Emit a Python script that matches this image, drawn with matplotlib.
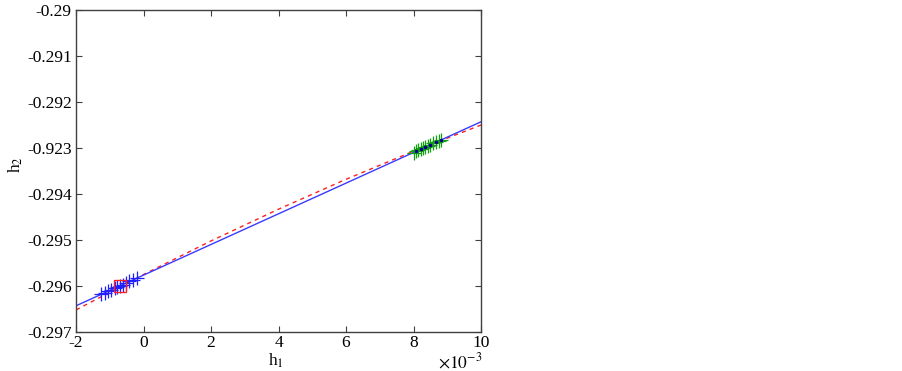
import matplotlib
matplotlib.use('Agg')
import matplotlib.pyplot as plt
from matplotlib.ticker import FixedLocator, FixedFormatter

plt.rcParams['font.family'] = ['Liberation Serif', 'DejaVu Serif']
plt.rcParams['mathtext.fontset'] = 'stix'

# fitted line (blue, solid) - values in units of 1e-3 on x
line_x = [-2, 10]
line_y = [-0.29643, -0.29243]

# second fit (red, dashed)
red_x = [-2, 0, 2, 4, 6, 8, 10]
red_y = [-0.29652, -0.29575, -0.29502, -0.29433, -0.29368, -0.29307, -0.29250]

# blue cluster
blue_x = [-1.25, -1.15, -1.05, -0.95, -0.85, -0.78, -0.70, -0.62, -0.52, -0.42, -0.30, -0.20]
blue_y = [-0.29618, -0.29615, -0.29611, -0.29608, -0.29605, -0.29602,
          -0.29600, -0.29597, -0.29594, -0.29590, -0.29586, -0.29583]

# green cluster
green_x = [8.00, 8.07, 8.14, 8.21, 8.28, 8.35, 8.42, 8.50, 8.58, 8.66, 8.74, 8.82]
green_y = [-0.29310, -0.29307, -0.29305, -0.29303, -0.29300, -0.29298,
           -0.29296, -0.29293, -0.29290, -0.29288, -0.29285, -0.29282]

# red square marker
sq_x = [-0.70]
sq_y = [-0.29600]

yticks = [-0.29, -0.291, -0.292, -0.293, -0.294, -0.295, -0.296, -0.297]
ytick_labels = ['-0.29', '-0.291', '-0.292', '-0.923', '-0.294', '-0.295', '-0.296', '-0.297']
xticks = [-2, 0, 2, 4, 6, 8, 10]

fig = plt.figure(figsize=(9.03, 3.71), dpi=100)
ax = fig.add_axes([0.0842, 0.1051, 0.4485, 0.8679])

ax.plot(red_x, red_y, color='#ff2020', linestyle=(0, (3, 3)), linewidth=1.0)
ax.plot(line_x, line_y, color='#3a3aff', linewidth=1.0)
ax.plot(blue_x, blue_y, linestyle='none', marker='+', color='#2020ff',
        markersize=10, markeredgewidth=0.9)
ax.plot(green_x, green_y, linestyle='none', marker='+', color='#10a010',
        markersize=10, markeredgewidth=0.9)
ax.plot(green_x[1::2], green_y[1::2], linestyle='none', marker='.', color='#000090',
        markersize=3)
ax.plot(sq_x, sq_y, linestyle='none', marker='s', markerfacecolor='none',
        markeredgecolor='#ff2020', markersize=8, markeredgewidth=1.0)

ax.set_xlim(-2, 10)
ax.set_ylim(-0.297, -0.29)
ax.xaxis.set_major_locator(FixedLocator(xticks))
ax.set_xticklabels([str(v) for v in xticks])
ax.yaxis.set_major_locator(FixedLocator(yticks))
ax.yaxis.set_major_formatter(FixedFormatter(ytick_labels))

ax.tick_params(direction='in', top=True, right=True, length=4, width=0.8,
               labelsize=12.5, colors='#404040', labelcolor='black', pad=3)
ax.tick_params(axis='x', pad=2)
for s in ax.spines.values():
    s.set_color('#404040')
    s.set_linewidth(1.0)

fig.text(276 / 903, 1 - 361 / 371, r'h$_1$', fontsize=12.5, ha='center', va='center')
fig.text(16 / 903, 1 - 165 / 371, r'h$_2$', fontsize=12.5, ha='center', va='center',
         rotation=90)
fig.text(482 / 903, 1 - 362 / 371, r'$\times10^{-3}$', fontsize=12.5,
         ha='right', va='center')

fig.savefig('out.png', dpi=100)
